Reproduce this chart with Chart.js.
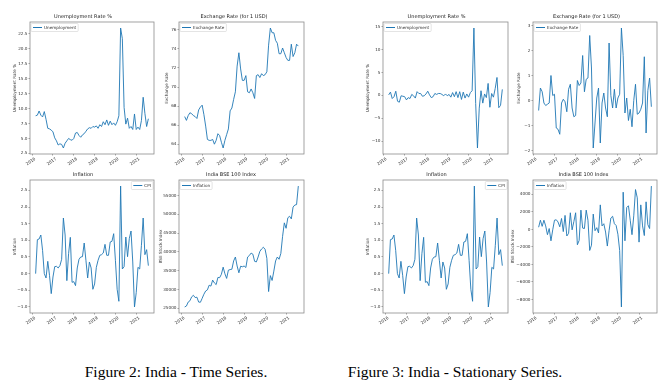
<!DOCTYPE html>
<html>
<head>
<meta charset="utf-8">
<script src="https://cdn.jsdelivr.net/npm/chart.js@4.4.0/dist/chart.umd.min.js"></script>
<style>
  html, body { margin: 0; padding: 0; background: #fff; }
  body { width: 670px; height: 392px; position: relative; overflow: hidden; }
  canvas { position: absolute; }
  .caption {
    position: absolute; top: 363px; transform: translateX(-50%);
    font-family: "Liberation Serif", serif; font-size: 15.5px; color: #000; white-space: nowrap;
  }
</style>
</head>
<body>
<div class="caption" style="left:176px">Figure 2: India - Time Series.</div>
<div class="caption" style="left:455px">Figure 3: India - Stationary Series.</div>
<script>
// monthly data, levels from Mar 2016, first differences from Apr 2016 (to Aug 2021)
const levelStart = [2016, 3];
const diffStart = [2016, 4];
const yearTicks = [2016, 2017, 2018, 2019, 2020, 2021];

const unemployment = [
  8.8, 8.9, 9.6, 8.9, 8.6, 9.5, 8.2, 6.7, 6.6, 6.4,
  6.1, 5.1, 4.6, 3.9, 4.1, 4.0, 3.4, 4.2, 4.6, 5.0,
  4.8, 4.7, 5.0, 5.9, 6.0, 5.5, 5.2, 5.6, 5.8, 6.2,
  6.6, 6.8, 6.7, 7.0, 6.9, 7.1, 6.7, 7.3, 7.0, 7.8,
  7.3, 8.1, 7.2, 7.9, 7.3, 7.6, 7.2, 7.8, 8.8, 23.5,
  21.7, 10.2, 7.4, 8.4, 6.7, 7.0, 6.5, 9.1, 6.5, 6.9,
  6.5, 8.0, 11.9, 9.2, 7.0, 8.3
];

const exchangeRate = [
  66.9, 66.5, 67.0, 67.3, 67.2, 67.0, 66.9, 66.7, 67.6, 67.9,
  68.1, 67.1, 65.9, 64.5, 64.4, 64.4, 64.5, 64.0, 64.4, 65.1,
  64.9, 64.2, 63.6, 64.4, 65.0, 65.6, 67.5, 67.8, 68.7, 69.5,
  72.2, 73.6, 71.9, 70.7, 70.7, 71.2, 69.5, 69.4, 69.8, 69.4,
  68.8, 71.2, 71.3, 71.0, 71.4, 71.2, 71.3, 71.6, 74.4, 76.2,
  75.7, 75.7, 74.9, 74.6, 73.5, 73.5, 74.1, 73.6, 73.1, 72.8,
  72.8, 74.5, 73.2, 73.6, 74.5, 74.3
];

const inflation = [
  0.0, 1.02, 1.04, 1.16, 0.7, 0.0, -0.13, 0.37, -0.05, -0.6,
  -0.1, 0.21, 0.22, 0.17, 0.24, 0.43, 1.67, 1.16, -0.21, 0.6,
  1.09, -0.26, -0.24, -0.36, 0.17, 0.43, 0.5, 0.51, 0.92, 0.4,
  -0.13, 0.35, 0.17, -0.47, -0.31, 0.19, 0.4, 0.55, 0.57, 0.62,
  0.88, 0.55, 0.55, 0.95, 0.97, 1.2, 0.4, -0.47, -0.83, 2.63,
  0.14, 0.21, 1.1, 0.51, 1.05, 1.28, 0.35, -1.0, -0.57, 0.19,
  0.14, 0.85, 1.67, 0.57, 0.72, 0.24
];

const bse100 = [
  25350, 25600, 26650, 27000, 28050, 28450, 27850, 27950, 26650, 26600,
  27650, 28750, 29600, 29900, 31150, 30900, 32500, 31750, 31300, 33200,
  33150, 34050, 35950, 34200, 32950, 35150, 35300, 35400, 37600, 38650,
  36250, 34450, 36200, 36050, 36250, 35850, 38650, 39050, 39700, 39400,
  37500, 37350, 38650, 40150, 40800, 41250, 40700, 38300, 29450, 33700,
  32400, 34900, 37600, 38650, 38050, 39600, 44150, 47750, 46300, 49100,
  49500, 48800, 51950, 52500, 52600, 57550
];

const unemploymentDiff = [
  0.1, 0.7, -0.7, -0.3, 0.9, -1.3, -1.5, -0.1, -0.2, -0.3,
  -1.0, -0.5, -0.7, 0.2, -0.1, -0.6, 0.8, 0.4, 0.4, -0.2,
  -0.1, 0.3, 0.9, 0.1, -0.5, -0.3, 0.4, 0.2, 0.4, 0.4,
  0.2, -0.1, 0.3, -0.1, 0.2, -0.4, 0.6, -0.3, 0.8, -0.5,
  0.8, -0.9, 0.7, -0.6, 0.3, -0.4, 0.6, 1.0, 14.7, -1.8,
  -11.5, -2.8, 1.0, -1.7, 0.3, -0.5, 2.6, -2.6, 0.4, -0.4,
  1.5, 3.9, -2.7, -2.2, 1.3
];

const exchangeRateDiff = [
  -0.4, 0.5, 0.35, -0.1, -0.2, -0.15, -0.1, 1.0, 0.2, 0.25,
  -1.1, -1.15, -1.35, -0.1, 0.05, -0.05, -0.45, 0.45, 0.65, -0.3,
  -0.65, -0.6, 0.8, 0.6, 0.7, 1.8, 0.35, 0.85, 0.9, 2.6,
  1.3, -1.9, -0.9, 0.1, 0.5, -1.7, -0.1, 0.3, -0.3, -0.65,
  2.3, 0.2, -0.3, 0.45, -0.3, 0.1, 0.25, 2.9, 1.8, -0.5,
  0.1, -0.8, -0.35, -1.05, 0.0, 0.65, -0.55, -0.5, -0.35, -0.1,
  1.75, -1.3, 0.4, 0.9, -0.25
];

const bse100Diff = [
  250, 1050, 350, 1050, 400, -600, 100, -1300, -50, 1050,
  1100, 850, 300, 1250, -250, 1600, -750, -450, 1900, -50,
  900, 1900, -1750, -1250, 2200, 150, 100, 2200, 1050, -2400,
  -1800, 1750, -150, 200, -400, 2800, 400, 650, -300, -1900,
  -150, 1300, 1500, 650, 450, -550, -2400, -8850, 4250, -1300,
  2500, 2700, 1050, -600, 1550, 4550, 3600, -1450, 2800, 400,
  -700, 3150, 550, 100, 4950
];

const unemploymentTicks = [2.5, 5, 7.5, 10, 12.5, 15, 17.5, 20, 22.5];
const exchangeTicks = [64, 66, 68, 70, 72, 74, 76];
const inflationTicks = [-1, -0.5, 0, 0.5, 1, 1.5, 2, 2.5];
const bseTicks = [25000, 30000, 35000, 40000, 45000, 50000, 55000];
const unemploymentDiffTicks = [-10, -5, 0, 5, 10, 15];
const exchangeDiffTicks = [-2, -1, 0, 1, 2, 3];
const bseDiffTicks = [-8000, -6000, -4000, -2000, 0, 2000, 4000];

// layout: plot box [left, top, width, height], y axis width, legend corner
const panels = [
  { title: 'Unemployment Rate %', ylabel: 'Unemployment Rate %', legend: 'Unemployment',
    values: unemployment, start: levelStart, ticks: unemploymentTicks, dec: 1,
    box: [30, 22, 124, 132], yw: 18, corner: 'left' },
  { title: 'Exchange Rate (for 1 USD)', ylabel: 'Exchange Rate', legend: 'Exchange Rate',
    values: exchangeRate, start: levelStart, ticks: exchangeTicks, dec: 0,
    box: [179, 22, 125, 132], yw: 15, corner: 'left' },
  { title: 'Inflation', ylabel: 'Inflation', legend: 'CPI',
    values: inflation, start: levelStart, ticks: inflationTicks, dec: 1,
    box: [30, 180, 124, 133], yw: 18, corner: 'right' },
  { title: 'India BSE 100 Index', ylabel: 'BSE Stock Index', legend: 'Inflation',
    values: bse100, start: levelStart, ticks: bseTicks, dec: 0,
    box: [179, 180, 125, 133], yw: 21, corner: 'left' },
  { title: 'Unemployment Rate %', ylabel: 'Unemployment Rate %', legend: 'Unemployment',
    values: unemploymentDiff, start: diffStart, ticks: unemploymentDiffTicks, dec: 0,
    box: [383, 22, 125, 132], yw: 18, corner: 'left' },
  { title: 'Exchange Rate (for 1 USD)', ylabel: 'Exchange Rate', legend: 'Exchange Rate',
    values: exchangeRateDiff, start: diffStart, ticks: exchangeDiffTicks, dec: 0,
    box: [533, 22, 124, 132], yw: 17, corner: 'left' },
  { title: 'Inflation', ylabel: 'Inflation', legend: 'CPI',
    values: inflation, start: levelStart, ticks: inflationTicks, dec: 1,
    box: [383, 180, 125, 133], yw: 18, corner: 'right' },
  { title: 'India BSE 100 Index', ylabel: 'BSE Stock Index', legend: 'Inflation',
    values: bse100Diff, start: diffStart, ticks: bseDiffTicks, dec: 0,
    box: [533, 180, 124, 133], yw: 23, corner: 'left' }
];

const FONT = '"DejaVu Sans"';
const SMALL = 4.2;
const TITLE_H = 10;
const XAXIS_H = 12;
const PAD_R = 2;
const LINE = '#1f77b4';
Chart.defaults.font.family = FONT;

const fmt = (v, dec) => {
  const s = Math.abs(v).toFixed(dec);
  return v < 0 ? '\u2212' + s : s;
};

// axes box like matplotlib spines
const frame = {
  id: 'frame',
  afterDraw(chart) {
    const { ctx, chartArea: a } = chart;
    ctx.save();
    ctx.strokeStyle = '#8c8c8c';
    ctx.lineWidth = 0.8;
    ctx.strokeRect(a.left, a.top, a.right - a.left, a.bottom - a.top);
    ctx.restore();
  }
};

// legend drawn inside the plot
const insetLegend = {
  id: 'insetLegend',
  afterDatasetsDraw(chart, args, opts) {
    const { ctx, chartArea: a } = chart;
    const ds = chart.data.datasets[0];
    ctx.save();
    ctx.font = SMALL + 'px ' + FONT;
    const w = ctx.measureText(ds.label).width + 15;
    const h = 8;
    const x = opts.corner === 'right' ? a.right - 1 - w : a.left + 1;
    const y = a.top + 1.5;
    ctx.fillStyle = 'rgba(255,255,255,0.85)';
    ctx.strokeStyle = '#d2d2d2';
    ctx.lineWidth = 0.6;
    ctx.beginPath();
    ctx.roundRect(x, y, w, h, 1);
    ctx.fill();
    ctx.stroke();
    ctx.strokeStyle = ds.borderColor;
    ctx.lineWidth = 1;
    ctx.beginPath();
    ctx.moveTo(x + 2, y + h / 2);
    ctx.lineTo(x + 11, y + h / 2);
    ctx.stroke();
    ctx.fillStyle = '#333';
    ctx.textBaseline = 'middle';
    ctx.fillText(ds.label, x + 13, y + h / 2 + 0.3);
    ctx.restore();
  }
};

panels.forEach(p => {
  const [left, top, pw, ph] = p.box;
  const canvas = document.createElement('canvas');
  const cw = p.yw + pw + PAD_R;
  const ch = TITLE_H + ph + XAXIS_H;
  canvas.width = cw;
  canvas.height = ch;
  canvas.style.left = (left - p.yw) + 'px';
  canvas.style.top = (top - TITLE_H) + 'px';
  canvas.style.width = cw + 'px';
  canvas.style.height = ch + 'px';
  document.body.appendChild(canvas);

  const xs = p.values.map((_, i) => p.start[0] + (p.start[1] - 1 + i) / 12);
  const points = p.values.map((v, i) => ({ x: xs[i], y: v }));

  const x0 = xs[0], x1 = xs[xs.length - 1];
  const xm = (x1 - x0) * 0.05;
  const lo = Math.min(...p.values), hi = Math.max(...p.values);
  const ym = (hi - lo) * 0.05;

  new Chart(canvas.getContext('2d'), {
    type: 'line',
    data: {
      datasets: [{
        label: p.legend,
        data: points,
        borderColor: LINE,
        borderWidth: 0.9,
        pointRadius: 0,
        tension: 0,
        fill: false
      }]
    },
    options: {
      responsive: false,
      animation: false,
      layout: { padding: { right: PAD_R } },
      plugins: {
        legend: { display: false },
        tooltip: { enabled: false },
        title: {
          display: true,
          text: p.title,
          color: '#222',
          font: { size: 5, weight: 'normal', lineHeight: 1 },
          padding: { top: 2, bottom: 3 }
        },
        insetLegend: { corner: p.corner }
      },
      scales: {
        x: {
          type: 'linear',
          min: x0 - xm,
          max: x1 + xm,
          afterBuildTicks: axis => { axis.ticks = yearTicks.map(v => ({ value: v })); },
          afterFit: s => { s.height = XAXIS_H; },
          ticks: {
            autoSkip: false,
            minRotation: 35,
            maxRotation: 35,
            labelOffset: 3,
            padding: 1,
            color: '#333',
            font: { size: SMALL },
            callback: v => String(v)
          },
          grid: { drawOnChartArea: false, tickLength: 1.5, color: '#666', lineWidth: 0.6 },
          border: { display: false }
        },
        y: {
          min: lo - ym,
          max: hi + ym,
          afterBuildTicks: axis => { axis.ticks = p.ticks.map(v => ({ value: v })); },
          afterFit: s => { s.width = p.yw; },
          ticks: {
            padding: 1,
            color: '#333',
            font: { size: SMALL },
            callback: v => fmt(v, p.dec)
          },
          grid: { drawOnChartArea: false, tickLength: 1.5, color: '#666', lineWidth: 0.6 },
          border: { display: false },
          title: {
            display: true,
            text: p.ylabel,
            color: '#333',
            font: { size: SMALL },
            padding: 0
          }
        }
      }
    },
    plugins: [frame, insetLegend]
  });
});
</script>
</body>
</html>
